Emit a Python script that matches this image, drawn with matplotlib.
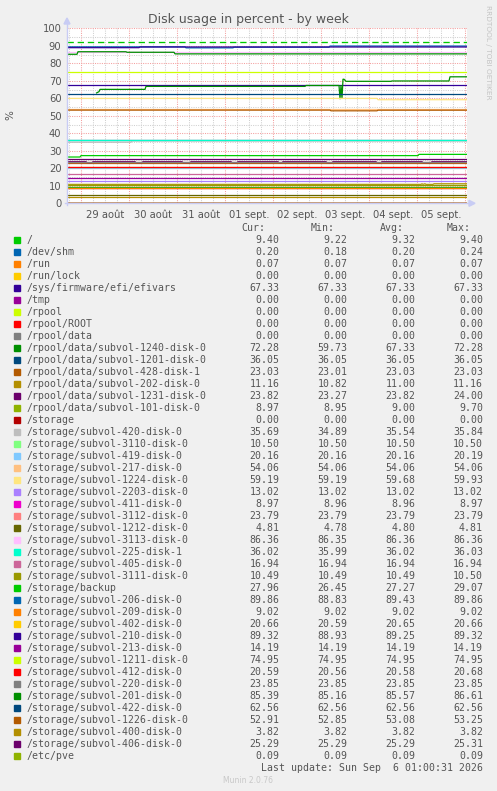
import matplotlib
matplotlib.use("Agg")
import matplotlib.pyplot as plt
from matplotlib.patches import Rectangle, Polygon

W, H = 497, 791

# ---- data ----
names = [
    "/", "/dev/shm", "/run", "/run/lock", "/sys/firmware/efi/efivars", "/tmp",
    "/rpool", "/rpool/ROOT", "/rpool/data",
    "/rpool/data/subvol-1240-disk-0", "/rpool/data/subvol-1201-disk-0",
    "/rpool/data/subvol-428-disk-1", "/rpool/data/subvol-202-disk-0",
    "/rpool/data/subvol-1231-disk-0", "/rpool/data/subvol-101-disk-0",
    "/storage", "/storage/subvol-420-disk-0", "/storage/subvol-3110-disk-0",
    "/storage/subvol-419-disk-0", "/storage/subvol-217-disk-0",
    "/storage/subvol-1224-disk-0", "/storage/subvol-2203-disk-0",
    "/storage/subvol-411-disk-0", "/storage/subvol-3112-disk-0",
    "/storage/subvol-1212-disk-0", "/storage/subvol-3113-disk-0",
    "/storage/subvol-225-disk-1", "/storage/subvol-405-disk-0",
    "/storage/subvol-3111-disk-0", "/storage/backup",
    "/storage/subvol-206-disk-0", "/storage/subvol-209-disk-0",
    "/storage/subvol-402-disk-0", "/storage/subvol-210-disk-0",
    "/storage/subvol-213-disk-0", "/storage/subvol-1211-disk-0",
    "/storage/subvol-412-disk-0", "/storage/subvol-220-disk-0",
    "/storage/subvol-201-disk-0", "/storage/subvol-422-disk-0",
    "/storage/subvol-1226-disk-0", "/storage/subvol-400-disk-0",
    "/storage/subvol-406-disk-0", "/etc/pve",
]
cur = [9.40, 0.20, 0.07, 0.00, 67.33, 0.00, 0.00, 0.00, 0.00, 72.28, 36.05,
       23.03, 11.16, 23.82, 8.97, 0.00, 35.69, 10.50, 20.16, 54.06, 59.19,
       13.02, 8.97, 23.79, 4.81, 86.36, 36.02, 16.94, 10.49, 27.96, 89.86,
       9.02, 20.66, 89.32, 14.19, 74.95, 20.59, 23.85, 85.39, 62.56, 52.91,
       3.82, 25.29, 0.09]
mins = [9.22, 0.18, 0.07, 0.00, 67.33, 0.00, 0.00, 0.00, 0.00, 59.73, 36.05,
        23.01, 10.82, 23.27, 8.95, 0.00, 34.89, 10.50, 20.16, 54.06, 59.19,
        13.02, 8.96, 23.79, 4.78, 86.35, 35.99, 16.94, 10.49, 26.45, 88.83,
        9.02, 20.59, 88.93, 14.19, 74.95, 20.56, 23.85, 85.16, 62.56, 52.85,
        3.82, 25.29, 0.09]
avgs = [9.32, 0.20, 0.07, 0.00, 67.33, 0.00, 0.00, 0.00, 0.00, 67.33, 36.05,
        23.03, 11.00, 23.82, 9.00, 0.00, 35.54, 10.50, 20.16, 54.06, 59.68,
        13.02, 8.96, 23.79, 4.80, 86.36, 36.02, 16.94, 10.49, 27.27, 89.43,
        9.02, 20.65, 89.25, 14.19, 74.95, 20.58, 23.85, 85.57, 62.56, 53.08,
        3.82, 25.29, 0.09]
maxs = [9.40, 0.24, 0.07, 0.00, 67.33, 0.00, 0.00, 0.00, 0.00, 72.28, 36.05,
        23.03, 11.16, 24.00, 9.70, 0.00, 35.84, 10.50, 20.19, 54.06, 59.93,
        13.02, 8.97, 23.79, 4.81, 86.36, 36.03, 16.94, 10.50, 29.07, 89.86,
        9.02, 20.66, 89.32, 14.19, 74.95, 20.68, 23.85, 86.61, 62.56, 53.25,
        3.82, 25.31, 0.09]

# hours since Aug 28 17:00 (window = 200 h, ends Sep 6 01:00)
t_end = 200
# series that change over the week: (times, values)
t_1240 = [14.5, 16, 16.5, 39, 39.5, 119, 119.5, 136, 136.5, 137, 137.5, 138, 138.5, 139.5, 162, 162.5, 191, 191.5, 200]
v_1240 = [62.9, 63.8, 65.1, 65.1, 66.8, 66.8, 67.33, 67.33, 59.73, 67.3, 59.9, 70.9, 70.9, 69.7, 69.7, 69.9, 69.9, 72.28, 72.28]
t_201 = [0, 5, 5.5, 29.5, 30, 53.5, 54, 200]
v_201 = [85.16, 85.16, 86.61, 86.61, 86.3, 86.3, 85.39, 85.39]
t_206 = [0, 59, 59.5, 83, 83.5, 131, 131.5, 200]
v_206 = [89.4, 89.4, 88.83, 88.83, 89.2, 89.2, 89.86, 89.86]
t_210 = [0, 36, 36.5, 200]
v_210 = [88.93, 88.93, 89.32, 89.32]
t_1224 = [0, 155, 155.5, 200]
v_1224 = [59.93, 59.93, 59.19, 59.19]
t_1226 = [0, 131.5, 132, 155, 155.5, 200]
v_1226 = [53.25, 53.25, 52.85, 52.85, 53.2, 53.2]
t_420 = [0, 32, 32.5, 200]
v_420 = [34.89, 34.89, 35.69, 35.69]
t_backup = [0, 6.5, 7, 175.5, 176, 200]
v_backup = [26.45, 26.45, 27.25, 27.25, 27.96, 27.96]
t_202 = [0, 177, 177.5, 178, 179, 179.5, 183, 183.5, 200]
v_202 = [10.82, 10.82, 11.16, 10.82, 11.16, 10.82, 10.82, 11.16, 11.16]
dips_1231 = [(9.5, 13), (34, 38), (57.5, 62), (82, 85.5), (105.5, 108),
             (129.5, 133), (154.5, 157.5), (177.5, 182.5)]
warn_root = 92

day_labels = ["29 août", "30 août", "31 août", "01 sept.", "02 sept.",
              "03 sept.", "04 sept.", "05 sept."]

colors = ["#00CC00", "#0066B3", "#FF8000", "#FFCC00", "#330099", "#990099",
          "#CCFF00", "#FF0000", "#808080", "#008F00", "#00487D", "#B35A00",
          "#B38F00", "#6B006B", "#8FB300", "#B30000", "#BEBEBE", "#80FF80",
          "#80C9FF", "#FFC080", "#FFE680", "#AA80FF", "#EE00CC", "#FF8080",
          "#666600", "#FFBFFF", "#00FFCC", "#CC6699", "#999900"]

changing = {
    "/rpool/data/subvol-1240-disk-0": (t_1240, v_1240),
    "/storage/subvol-201-disk-0": (t_201, v_201),
    "/storage/subvol-206-disk-0": (t_206, v_206),
    "/storage/subvol-210-disk-0": (t_210, v_210),
    "/storage/subvol-1224-disk-0": (t_1224, v_1224),
    "/storage/subvol-1226-disk-0": (t_1226, v_1226),
    "/storage/subvol-420-disk-0": (t_420, v_420),
    "/storage/backup": (t_backup, v_backup),
    "/rpool/data/subvol-202-disk-0": (t_202, v_202),
}


def series(i):
    name = names[i]
    if name in changing:
        return changing[name]
    if name == "/rpool/data/subvol-1231-disk-0":
        ts, vs = [0], [cur[i]]
        for a, b in dips_1231:
            ts += [a, a + 0.5, b - 0.5, b]
            vs += [cur[i], mins[i], mins[i], cur[i]]
        return ts + [t_end], vs + [cur[i]]
    return [0, t_end], [cur[i], cur[i]]


def fx(px):
    return px / W


def fy(py):
    return 1 - py / H


BG = "#F0F0F0"
TXT = "#555555"
fig = plt.figure(figsize=(W / 100, H / 100), dpi=100, facecolor=BG)

left, right, top, bottom = 67, 467, 28.3, 203.3
ax = fig.add_axes([fx(left), fy(bottom), (right - left) / W, (bottom - top) / H])
ax.set_facecolor("white")
ax.set_xlim(0, t_end)
ax.set_ylim(0, 100)
for s in ax.spines.values():
    s.set_visible(False)

# axis lines with arrows (drawn under the data)
AX = "#C8CCF4"
fig.add_artist(plt.Line2D([fx(left), fx(left)], [fy(bottom + 2), fy(24)], color=AX, lw=1.0, zorder=0.5))
fig.add_artist(plt.Line2D([fx(left - 2), fx(469)], [fy(bottom), fy(bottom)], color=AX, lw=1.0, zorder=0.5))
fig.add_artist(Polygon([(fx(left - 3), fy(24)), (fx(left + 3), fy(24)), (fx(left), fy(18))],
                       closed=True, color=AX))
fig.add_artist(Polygon([(fx(469), fy(bottom - 3)), (fx(469), fy(bottom + 3)), (fx(475), fy(bottom))],
                       closed=True, color=AX))

# grid
for x in range(1, t_end, 6):
    c = "#F4A0A0" if (x - 7) % 24 == 0 else "#D0D0D0"
    ax.axvline(x, color=c, lw=0.75, ls=(0, (1, 1.2)), zorder=0)
for y in range(5, 101, 5):
    c = "#F4A0A0" if y % 10 == 0 else "#D0D0D0"
    ax.axhline(y, color=c, lw=0.75, ls=(0, (1, 1.2)), zorder=0)

ax.axhline(warn_root, color="#00CC00", lw=0.95, ls=(0, (4.8, 2.9)), zorder=1)

for i in range(len(names)):
    ts, vs = series(i)
    ax.plot(ts, vs, color=colors[i % len(colors)], lw=0.9, zorder=2 + i * 0.01,
            solid_capstyle="butt", clip_on=True)

ax.set_yticks(range(0, 101, 10))
ax.set_yticklabels([str(v) for v in range(0, 101, 10)], fontsize=7.2, color=TXT)
ax.set_xticks([19 + 24 * k for k in range(len(day_labels))])
ax.set_xticklabels(day_labels, fontsize=7.2, color=TXT)
ax.tick_params(length=0, pad=4)
ax.tick_params(axis="x", pad=5)

fig.text(fx(248.5), fy(19), "Disk usage in percent - by week", ha="center", va="center",
         fontsize=9, color=TXT)
fig.text(fx(10), fy(115), "%", rotation=90, ha="center", va="center", fontsize=7.5, color=TXT)
fig.text(fx(488), fy(5), "RRDTOOL / TOBI OETIKER", rotation=-90, ha="center", va="top",
         fontsize=5.3, color="#C4C4C4")

# legend
mono = "DejaVu Sans Mono"
fs = 7.1
hdr_y = 228
for label, xr in zip(["Cur:", "Min:", "Avg:", "Max:"], [265.5, 335, 403.5, 470.5]):
    fig.text(fx(xr), fy(hdr_y), label, ha="right", va="center", family=mono, fontsize=fs, color=TXT)
val_x = [279.5, 347.3, 415.3, 483]
for i, name in enumerate(names):
    y = 240 + 12 * i
    fig.add_artist(Rectangle((fx(14), fy(y + 3)), 6 / W, 6 / H, color=colors[i % len(colors)],
                             transform=fig.transFigure))
    fig.text(fx(26.5), fy(y), name, ha="left", va="center", family=mono, fontsize=fs, color=TXT)
    for xv, arr in zip(val_x, [cur, mins, avgs, maxs]):
        fig.text(fx(xv), fy(y), f"{arr[i]:.2f}", ha="right", va="center", family=mono,
                 fontsize=fs, color=TXT)

fig.text(fx(483), fy(768), "Last update: Sun Sep  6 01:00:31 2026", ha="right", va="center",
         family=mono, fontsize=fs, color=TXT)
fig.text(fx(248), fy(780.5), "Munin 2.0.76", ha="center", va="center", fontsize=5.5,
         color="#C8C8C8")

fig.savefig("out.png", dpi=100, facecolor=BG)
